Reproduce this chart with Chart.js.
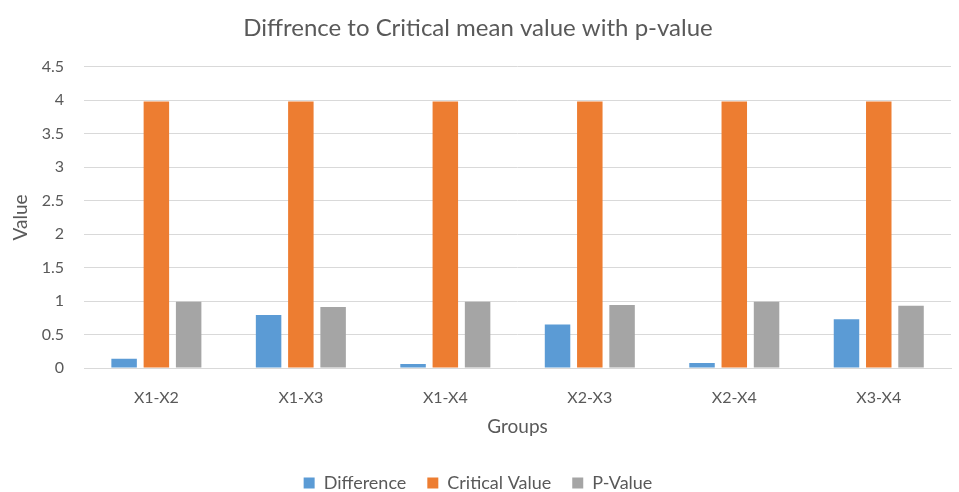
<!doctype html>
<html lang="en">
<head>
  <meta charset="UTF-8" />
  <title>Diffrence to Critical mean value with p-value</title>
  <script src="https://cdn.jsdelivr.net/npm/chart.js@4.4.4/dist/chart.umd.min.js"></script>
  <style>
    body { margin: 0; background: #fff; }
    .wrap { width: 959px; height: 492px; position: relative; }
  </style>
</head>
<body>
  <div class="wrap"><canvas id="chart"></canvas></div>
  <script>
    const groups = ['X1-X2', 'X1-X3', 'X1-X4', 'X2-X3', 'X2-X4', 'X3-X4'];
    const difference = [0.14, 0.79, 0.06, 0.65, 0.075, 0.73];
    const criticalValue = [3.98, 3.98, 3.98, 3.98, 3.98, 3.98];
    const pValue = [0.99, 0.91, 0.99, 0.94, 0.99, 0.93];

    const font = "Lato, 'Open Sans', sans-serif";
    const textColor = '#595959';

    new Chart(document.getElementById('chart'), {
      type: 'bar',
      data: {
        labels: groups,
        datasets: [
          { label: 'Difference', data: difference, backgroundColor: '#5b9bd5' },
          { label: 'Critical Value', data: criticalValue, backgroundColor: '#ed7d31' },
          { label: 'P-Value', data: pValue, backgroundColor: '#a5a5a5' }
        ]
      },
      options: {
        responsive: true,
        maintainAspectRatio: false,
        animation: false,
        datasets: { bar: { categoryPercentage: 0.67, barPercentage: 0.79 } },
        layout: { padding: { left: 5, right: 8, top: 8, bottom: -10 } },
        plugins: {
          title: {
            display: true,
            text: 'Diffrence to Critical mean value with p-value',
            color: textColor,
            font: { family: font, size: 24, weight: 'normal' },
            padding: { top: 6, bottom: 24 }
          },
          legend: {
            position: 'bottom',
            labels: {
              color: textColor,
              font: { family: font, size: 18 },
              boxWidth: 11,
              boxHeight: 11,
              padding: 21
            }
          },
          tooltip: { enabled: false }
        },
        scales: {
          x: {
            grid: { display: false },
            border: { color: '#d9d9d9' },
            ticks: { color: textColor, font: { family: font, size: 16 }, padding: 12 },
            title: {
              display: true,
              text: 'Groups',
              color: textColor,
              font: { family: font, size: 19 },
              padding: { top: -4, bottom: 15 }
            }
          },
          y: {
            min: 0,
            max: 4.5,
            ticks: {
              stepSize: 0.5,
              color: textColor,
              font: { family: font, size: 16 },
              padding: 20,
              callback: (v) => String(v)
            },
            grid: { color: '#d9d9d9', drawTicks: false },
            border: { display: false },
            title: {
              display: true,
              text: 'Value',
              color: textColor,
              font: { family: font, size: 19 },
              padding: { top: 4, bottom: -10 }
            }
          }
        }
      }
    });
  </script>
</body>
</html>
